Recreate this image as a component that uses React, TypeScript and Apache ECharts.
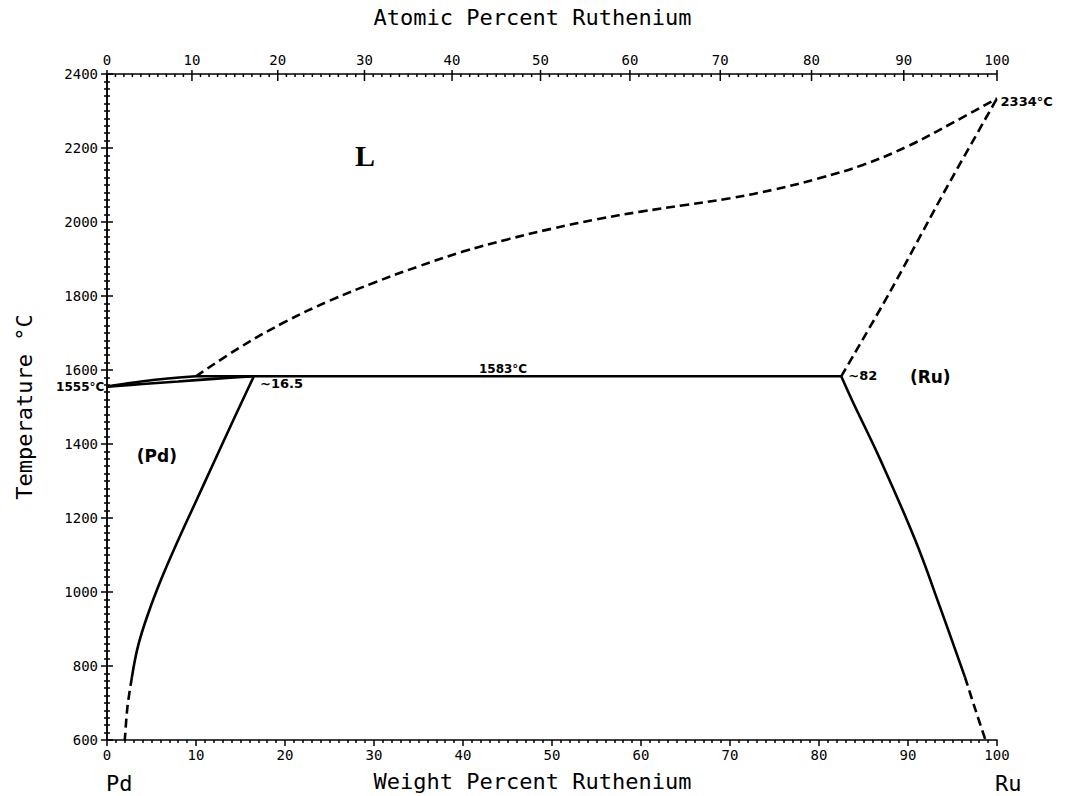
import React, { useEffect, useRef } from "react";
import * as echarts from "echarts";

// ---- data (weight % Ru, temperature °C) ----
const liquidus: [number, number][] = [
  [10, 1583], [15, 1662], [20, 1730], [25, 1787], [30, 1836], [35, 1880], [40, 1920],
  [45, 1953], [50, 1982], [55, 2007], [60, 2028], [65, 2046], [70, 2064], [75, 2088],
  [80, 2118], [85, 2155], [90, 2205], [95, 2268], [100, 2334],
];
const ruLiquidus: [number, number][] = [[82.5, 1583], [88, 1812], [94, 2078], [100, 2334]];
const peritectic: [number, number][] = [[10, 1583], [82.5, 1583]];
const pdLiquidus: [number, number][] = [[0, 1555], [3, 1566], [6, 1575], [10, 1583]];
const pdSolidus: [number, number][] = [[0, 1555], [4, 1562], [8, 1569], [12, 1576], [16.5, 1583]];
const pdSolvus: [number, number][] = [
  [16.5, 1583], [14.2, 1465], [12.0, 1350], [9.9, 1240], [7.9, 1135], [6.1, 1035],
  [4.6, 940], [3.5, 855], [2.8, 770],
];
const pdSolvusDashed: [number, number][] = [[2.8, 770], [2.3, 690], [2.0, 600]];
const ruSolvus: [number, number][] = [
  [82.5, 1583], [83.7, 1519], [86.9, 1357], [90.8, 1141], [93.6, 959], [96.4, 770],
];
const ruSolvusDashed: [number, number][] = [[96.4, 770], [97.6, 680], [98.7, 600]];

const atomicMajorTicks = [0, 10, 20, 30, 40, 50, 60, 70, 80, 90, 100];
const weightTicks = [0, 10, 20, 30, 40, 50, 60, 70, 80, 90, 100];
const tempTicks = [600, 800, 1000, 1200, 1400, 1600, 1800, 2000, 2200, 2400];

const annotations = [
  { text: "L", pos: [29, 2180], size: 30, family: "'Liberation Serif'", weight: "bold", align: "center", vAlign: "middle" },
  { text: "1583°C", pos: [44.5, 1587], size: 12, family: "'DejaVu Sans'", weight: "bold", align: "center", vAlign: "bottom" },
  { text: "~16.5", pos: [17.2, 1563], size: 13, family: "'DejaVu Sans'", weight: "bold", align: "left", vAlign: "middle" },
  { text: "~82", pos: [83.3, 1585], size: 13, family: "'DejaVu Sans'", weight: "bold", align: "left", vAlign: "middle" },
  { text: "(Ru)", pos: [92.5, 1580], size: 17, family: "'DejaVu Sans'", weight: "bold", align: "center", vAlign: "middle" },
  { text: "(Pd)", pos: [5.6, 1368], size: 17, family: "'DejaVu Sans'", weight: "bold", align: "center", vAlign: "middle" },
  { text: "1555°C", pos: [-0.3, 1553], size: 12, family: "'DejaVu Sans'", weight: "bold", align: "right", vAlign: "middle" },
  { text: "2334°C", pos: [100.4, 2326], size: 13, family: "'DejaVu Sans'", weight: "bold", align: "left", vAlign: "middle" },
];

const MONO = "'DejaVu Sans Mono'";

// atomic % Ru -> weight % Ru (Ru 101.07, Pd 106.42)
function atToWt(a: number): number {
  const ru = a * 101.07;
  const pd = (100 - a) * 106.42;
  return (ru / (ru + pd)) * 100;
}

export default function App() {
  const ref = useRef<HTMLDivElement>(null);
  useEffect(() => {
    if (!ref.current) return;
    const chart = echarts.init(ref.current, undefined, { renderer: "svg" });

    const topTickData: number[][] = [];
    for (let a = 0; a <= 100; a++) {
      topTickData.push([a, atomicMajorTicks.indexOf(a) >= 0 ? 1 : 0]);
    }

    const lineSeries = (data: [number, number][], dashed: boolean, smooth: number | boolean) => ({
      type: "line",
      data,
      smooth,
      showSymbol: false,
      symbol: "none",
      silent: true,
      clip: false,
      lineStyle: {
        color: "#000",
        width: 2.6,
        type: dashed ? [9, 5] : "solid",
      },
    });

    const option: any = {
      animation: false,
      backgroundColor: "#fff",
      grid: { left: 107, right: 68, top: 74, bottom: 56 },
      xAxis: [
        {
          type: "value",
          min: 0,
          max: 100,
          interval: 10,
          position: "bottom",
          axisLine: { show: true, lineStyle: { color: "#000", width: 1.5 } },
          axisTick: { show: true, length: 6, lineStyle: { color: "#000", width: 1.5 } },
          minorTick: { show: true, splitNumber: 10, length: 3, lineStyle: { color: "#000", width: 1.5 } },
          splitLine: { show: false },
          axisLabel: {
            color: "#000",
            fontFamily: MONO,
            fontSize: 14,
            margin: 8,
            formatter: (v: number) => (weightTicks.indexOf(v) >= 0 ? String(v) : ""),
          },
        },
        {
          type: "value",
          min: 0,
          max: 100,
          position: "top",
          axisLine: { show: true, lineStyle: { color: "#000", width: 1.5 } },
          axisTick: { show: false },
          axisLabel: { show: false },
          splitLine: { show: false },
        },
      ],
      yAxis: [
        {
          type: "value",
          min: 600,
          max: 2400,
          interval: 200,
          position: "left",
          name: "Temperature °C",
          nameLocation: "middle",
          nameGap: 72,
          nameTextStyle: { color: "#000", fontFamily: MONO, fontSize: 22 },
          axisLine: { show: true, lineStyle: { color: "#000", width: 1.5 } },
          axisTick: { show: true, length: 6, lineStyle: { color: "#000", width: 1.5 } },
          minorTick: { show: true, splitNumber: 10, length: 3, lineStyle: { color: "#000", width: 1.5 } },
          splitLine: { show: false },
          axisLabel: {
            color: "#000",
            fontFamily: MONO,
            fontSize: 14,
            margin: 9,
            formatter: (v: number) => (tempTicks.indexOf(v) >= 0 ? String(v) : ""),
          },
        },
        {
          type: "value",
          min: 600,
          max: 2400,
          interval: 200,
          position: "right",
          axisLine: { show: true, lineStyle: { color: "#000", width: 1.5 } },
          axisTick: { show: true, length: 6, lineStyle: { color: "#000", width: 1.5 } },
          minorTick: { show: true, splitNumber: 10, length: 3, lineStyle: { color: "#000", width: 1.5 } },
          splitLine: { show: false },
          axisLabel: { show: false },
        },
      ],
      graphic: [
        {
          type: "text",
          left: "center",
          top: 6,
          style: { text: "Atomic Percent Ruthenium", font: `22px ${MONO}`, fill: "#000" },
        },
        {
          type: "text",
          left: "center",
          top: 770,
          style: { text: "Weight Percent Ruthenium", font: `22px ${MONO}`, fill: "#000" },
        },
        {
          type: "text",
          left: 106,
          top: 772,
          style: { text: "Pd", font: `22px ${MONO}`, fill: "#000" },
        },
        {
          type: "text",
          left: 995,
          top: 772,
          style: { text: "Ru", font: `22px ${MONO}`, fill: "#000" },
        },
      ],
      series: [
        lineSeries(liquidus, true, 0.4),
        lineSeries(ruLiquidus, true, 0.3),
        lineSeries(peritectic, false, false),
        lineSeries(pdLiquidus, false, 0.4),
        lineSeries(pdSolidus, false, 0.4),
        lineSeries(pdSolvus, false, 0.4),
        lineSeries(pdSolvusDashed, true, 0.3),
        lineSeries(ruSolvus, false, 0.4),
        lineSeries(ruSolvusDashed, true, 0.3),
        {
          type: "custom",
          silent: true,
          clip: false,
          data: topTickData,
          renderItem: (_params: any, api: any) => {
            const a = api.value(0);
            const major = api.value(1) === 1;
            const p = api.coord([atToWt(a), 2400]);
            const children: any[] = [
              {
                type: "line",
                shape: { x1: p[0], y1: p[1] - (major ? 4 : 0), x2: p[0], y2: p[1] + (major ? 7 : 3) },
                style: { stroke: "#000", lineWidth: 1.5 },
              },
            ];
            if (major) {
              children.push({
                type: "text",
                style: {
                  text: String(a),
                  x: p[0],
                  y: p[1] - 7,
                  align: "center",
                  verticalAlign: "bottom",
                  font: `14px ${MONO}`,
                  fill: "#000",
                },
              });
            }
            return { type: "group", children };
          },
        },
        {
          type: "custom",
          silent: true,
          clip: false,
          data: annotations.map((a, i) => [a.pos[0], a.pos[1], i]),
          renderItem: (_params: any, api: any) => {
            const a = annotations[api.value(2)];
            const p = api.coord([api.value(0), api.value(1)]);
            return {
              type: "text",
              style: {
                text: a.text,
                x: p[0],
                y: p[1],
                align: a.align,
                verticalAlign: a.vAlign,
                font: `${a.weight} ${a.size}px ${a.family}`,
                fill: "#000",
              },
            };
          },
        },
      ],
    };
    chart.setOption(option);
    return () => chart.dispose();
  }, []);
  return (
    <div
      ref={ref}
      style={{ position: "fixed", left: 0, top: 0, width: 1065, height: 796, background: "#fff" }}
    />
  );
}
